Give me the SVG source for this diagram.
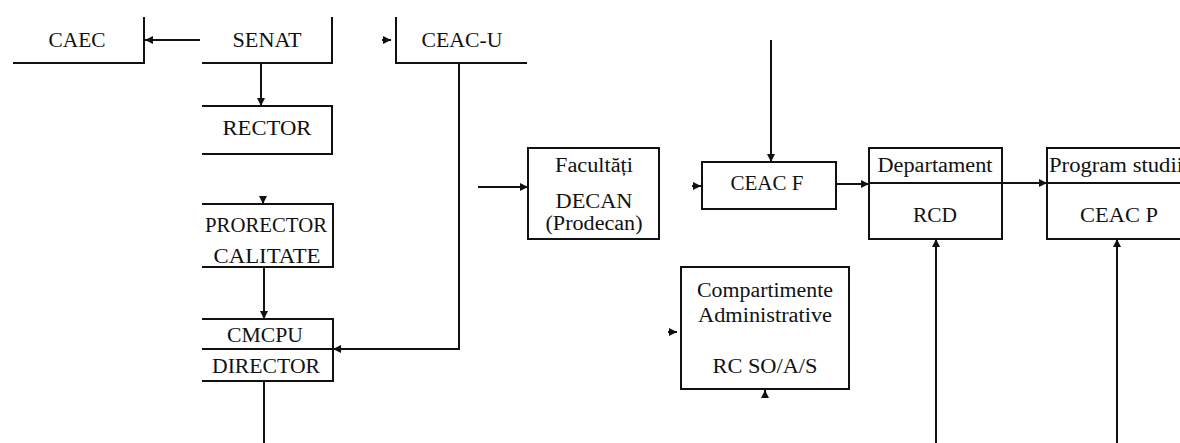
<svg xmlns="http://www.w3.org/2000/svg" width="1180" height="443" viewBox="0 0 1180 443" font-family="'Liberation Serif', 'Times New Roman', 'DejaVu Serif', serif">
<defs>
<style>
.t{font-size:20px;fill:#111;text-anchor:middle}
.ln{stroke:#111;stroke-width:2;fill:none}
.bx{stroke:#111;stroke-width:2;fill:#fff}
</style>
<marker id="ah" viewBox="0 0 10 10" refX="10" refY="5" markerWidth="8" markerHeight="8" markerUnits="userSpaceOnUse" orient="auto"><path d="M0,0 L10,5 L0,10 z" fill="#111"/></marker>
</defs>
<rect width="1180" height="443" fill="#fff"/>
<g id="caec"><path class="ln" d="M13,63 H144 V17"/><text class="t" x="77" y="47" textLength="57" lengthAdjust="spacingAndGlyphs">CAEC</text></g>
<g id="senat"><path class="ln" d="M202,63 H332 V17"/><text class="t" x="267" y="47" textLength="69" lengthAdjust="spacingAndGlyphs">SENAT</text></g>
<g id="ceacu"><path class="ln" d="M396,17 V63 H527"/><text class="t" x="462" y="47" textLength="81" lengthAdjust="spacingAndGlyphs">CEAC-U</text></g>
<g id="rector"><path class="ln" d="M202,106 H332 V154 H202"/><text class="t" x="267" y="135" textLength="89" lengthAdjust="spacingAndGlyphs">RECTOR</text></g>
<g id="prorector"><path class="ln" d="M202,204 H333 V267 H202"/><text class="t" x="266" y="232" textLength="122" lengthAdjust="spacingAndGlyphs">PRORECTOR</text><text class="t" x="267" y="263" textLength="107" lengthAdjust="spacingAndGlyphs">CALITATE</text></g>
<g id="cmcpu"><path class="ln" d="M202,319 H333 V381 H202 M202,349 H333"/><text class="t" x="265" y="342" textLength="76" lengthAdjust="spacingAndGlyphs">CMCPU</text><text class="t" x="266" y="373" textLength="108" lengthAdjust="spacingAndGlyphs">DIRECTOR</text></g>
<g id="facultati"><rect class="bx" x="528" y="148" width="131" height="91"/><text class="t" x="594" y="172" textLength="78" lengthAdjust="spacingAndGlyphs">Facultăți</text><text class="t" x="594" y="208" textLength="77" lengthAdjust="spacingAndGlyphs">DECAN</text><text class="t" x="594" y="230" textLength="97" lengthAdjust="spacingAndGlyphs">(Prodecan)</text></g>
<g id="ceacf"><rect class="bx" x="702" y="162" width="134" height="47"/><text class="t" x="767" y="190" textLength="73" lengthAdjust="spacingAndGlyphs">CEAC F</text></g>
<g id="departament"><rect class="bx" x="869" y="148" width="133" height="91"/><path class="ln" d="M869,183 H1002"/><text class="t" x="935" y="172" textLength="115" lengthAdjust="spacingAndGlyphs">Departament</text><text class="t" x="935" y="222" textLength="44" lengthAdjust="spacingAndGlyphs">RCD</text></g>
<g id="program"><rect class="bx" x="1047" y="148" width="145" height="91"/><path class="ln" d="M1047,183 H1190"/><text class="t" x="1049" y="172" style="text-anchor:start" textLength="134" lengthAdjust="spacingAndGlyphs">Program studii</text><text class="t" x="1119" y="222" textLength="78" lengthAdjust="spacingAndGlyphs">CEAC P</text></g>
<g id="compartimente"><rect class="bx" x="681" y="267" width="168" height="122"/><text class="t" x="765" y="297" textLength="136" lengthAdjust="spacingAndGlyphs">Compartimente</text><text class="t" x="765" y="322" textLength="134" lengthAdjust="spacingAndGlyphs">Administrative</text><text class="t" x="765" y="373" textLength="105" lengthAdjust="spacingAndGlyphs">RC SO/A/S</text></g>
<g id="connectors">
<path class="ln" d="M200,40 H145" marker-end="url(#ah)"/>
<path class="ln" d="M261,63 V106" marker-end="url(#ah)"/>
<path class="ln" d="M382,40 H391" stroke-width="0" marker-end="url(#ah)"/>
<path class="ln" d="M263,196 V204" stroke-width="0" marker-end="url(#ah)"/>
<path class="ln" d="M264,267 V319" marker-end="url(#ah)"/>
<path class="ln" d="M459,63 V349 H333" marker-end="url(#ah)"/>
<path class="ln" d="M264,381 V443"/>
<path class="ln" d="M478,187 H528" marker-end="url(#ah)"/>
<path class="ln" d="M692,186 H701" stroke-width="0" marker-end="url(#ah)"/>
<path class="ln" d="M771,40 V162" marker-end="url(#ah)"/>
<path class="ln" d="M836,184 H869" marker-end="url(#ah)"/>
<path class="ln" d="M1002,183 H1047" marker-end="url(#ah)"/>
<path class="ln" d="M936,443 V239" marker-end="url(#ah)"/>
<path class="ln" d="M1117,443 V239" marker-end="url(#ah)"/>
<path class="ln" d="M668,332 H677" stroke-width="0" marker-end="url(#ah)"/>
<path class="ln" d="M765,398 V390" stroke-width="0" marker-end="url(#ah)"/>
</g>
</svg>
